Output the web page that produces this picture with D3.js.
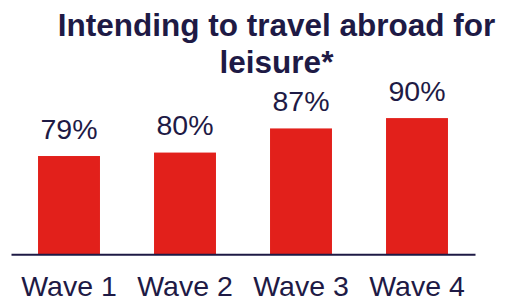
<!DOCTYPE html>
<html lang="en">
<head>
    <meta charset="UTF-8">
    <title>Intending to travel abroad for leisure</title>
    <script src="https://d3js.org/d3.v7.min.js"></script>
    <style>
        body { margin: 0; background: #fff; }
        svg { display: block; font-family: "Liberation Sans", Arial, sans-serif; }
    </style>
</head>
<body>
<svg id="chart" width="505" height="301"></svg>
<script>
    // Data
    const waves = ["Wave 1", "Wave 2", "Wave 3", "Wave 4"];
    const values = [79, 80, 87, 90];
    const titleLines = ["Intending to travel abroad for", "leisure*"];

    const navy = "#1e1a45";
    const red = "#e2201b";

    const svg = d3.select("#chart");
    const baseY = 254.3;

    // x: band scale across the baseline
    const x = d3.scaleBand()
        .domain(waves)
        .range([11, 475])
        .paddingInner(0.466)
        .paddingOuter(0.233);

    // y: truncated value axis (bars are not from zero in the original)
    const y = d3.scaleLinear()
        .domain([50.5, 100])
        .range([baseY, 83.6]);

    // Title
    svg.append("text")
        .attr("x", 276.5)
        .attr("y", 35.7)
        .attr("text-anchor", "middle")
        .attr("font-size", "31.5px")
        .attr("font-weight", "bold")
        .attr("fill", navy)
        .selectAll("tspan")
        .data(titleLines)
        .enter()
        .append("tspan")
        .attr("x", 276.5)
        .attr("dy", (d, i) => i === 0 ? 0 : 37)
        .text(d => d);

    const data = waves.map((w, i) => ({ wave: w, value: values[i] }));

    // Bars
    svg.selectAll("rect.bar")
        .data(data)
        .enter()
        .append("rect")
        .attr("class", "bar")
        .attr("x", d => x(d.wave))
        .attr("y", d => y(d.value))
        .attr("width", x.bandwidth())
        .attr("height", d => baseY - y(d.value))
        .attr("fill", red);

    // Value labels
    svg.selectAll("text.val")
        .data(data)
        .enter()
        .append("text")
        .attr("class", "val")
        .attr("x", d => x(d.wave) + x.bandwidth() / 2)
        .attr("y", d => y(d.value) - 17.5)
        .attr("text-anchor", "middle")
        .attr("font-size", "28.5px")
        .attr("fill", navy)
        .text(d => d.value + "%");

    // Baseline (x axis)
    const axis = svg.append("g")
        .attr("transform", `translate(0,${baseY})`)
        .call(d3.axisBottom(x).tickSize(0).tickPadding(0).tickSizeOuter(0));
    axis.select(".domain")
        .attr("stroke", navy)
        .attr("stroke-width", 2);
    axis.selectAll(".tick text")
        .attr("y", 41.4)
        .attr("dy", 0)
        .attr("font-size", "28.5px")
        .attr("font-family", "\"Liberation Sans\", Arial, sans-serif")
        .attr("fill", navy);
</script>
</body>
</html>
